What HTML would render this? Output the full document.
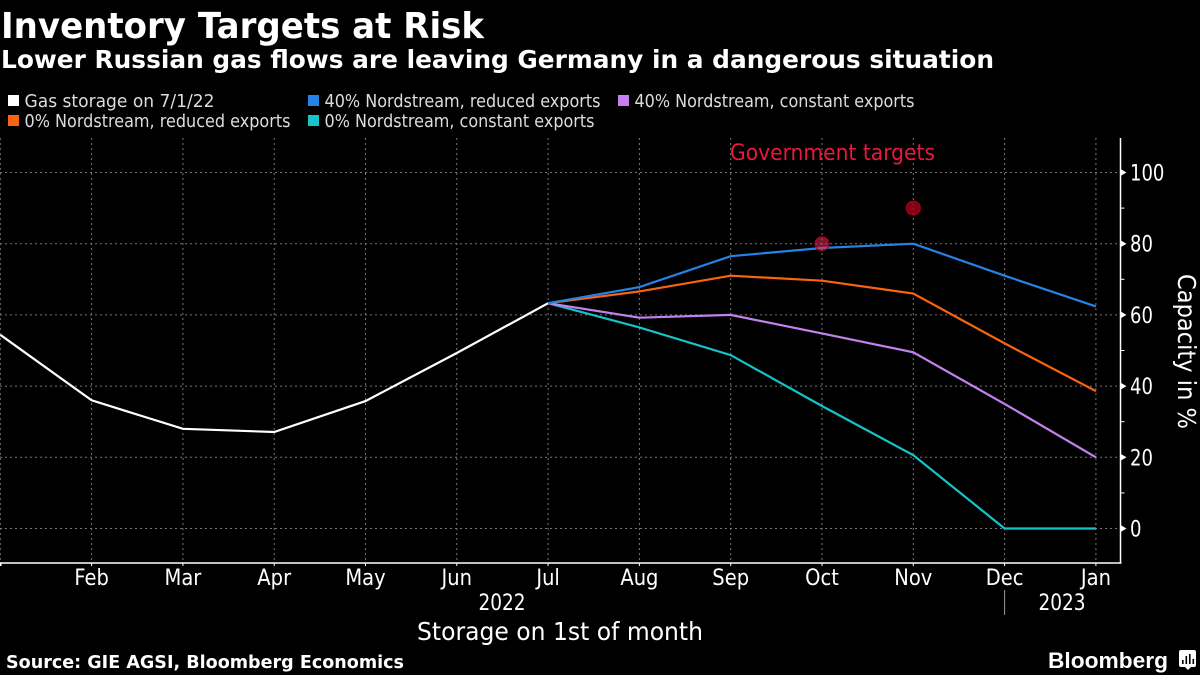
<!DOCTYPE html>
<html><head><meta charset="utf-8">
<style>
html,body{margin:0;padding:0;background:#000;width:1200px;height:675px;overflow:hidden}
svg{display:block}
text{font-family:"DejaVu Sans","Liberation Sans",sans-serif;fill:#fff}
</style></head>
<body>
<svg id="chart" width="1200" height="675" viewBox="0 0 1200 675" xmlns="http://www.w3.org/2000/svg">
<rect width="1200" height="675" fill="#000"/>
<text x="1" y="38" font-size="36" font-weight="700" textLength="483" lengthAdjust="spacingAndGlyphs">Inventory Targets at Risk</text>
<text x="1" y="68" font-size="24.5" font-weight="700" textLength="993" lengthAdjust="spacingAndGlyphs">Lower Russian gas flows are leaving Germany in a dangerous situation</text>
<g id="legend"></g>
<g id="grid"></g>
<g id="series"></g>
<g id="axes"></g>
<text x="730" y="160" font-size="22" style="fill:#e8193c" textLength="205" lengthAdjust="spacingAndGlyphs">Government targets</text>
<text transform="translate(1178,351.5) rotate(90)" text-anchor="middle" font-size="25" textLength="155" lengthAdjust="spacingAndGlyphs">Capacity in %</text>
<text x="417" y="640" font-size="25" textLength="286" lengthAdjust="spacingAndGlyphs">Storage on 1st of month</text>
<text x="6" y="668" font-size="17.5" font-weight="700" textLength="398" lengthAdjust="spacingAndGlyphs">Source: GIE AGSI, Bloomberg Economics</text>
<text x="1048" y="668" font-size="22.5" font-weight="700" textLength="120" lengthAdjust="spacingAndGlyphs" style='font-family:"Liberation Sans",sans-serif'>Bloomberg</text>
<g>
<rect x="1179" y="650" width="17" height="17" rx="2" fill="#fff"/>
<polygon points="1185,667 1191,667 1188,670" fill="#fff"/>
<rect x="1182" y="660" width="1.6" height="4" fill="#000"/>
<rect x="1185.5" y="656" width="1.6" height="8" fill="#000"/>
<rect x="1189" y="654" width="1.6" height="10" fill="#000"/>
<rect x="1192.5" y="659" width="1.6" height="5" fill="#000"/>
</g>
</svg>
<script>
const months = ['Jan','Feb','Mar','Apr','May','Jun','Jul','Aug','Sep','Oct','Nov','Dec','Jan'];
const yTicks = [0,20,40,60,80,100];
const yMinorTicks = [10,30,50,70,90];
const actual = [54.4,36,28,27.1,35.8,49.3,63.3];
const blueSeries = [63.3,67.8,76.5,78.8,80,71,62.4];
const orangeSeries = [63.3,66.6,71,69.6,66,52,38.6];
const purpleSeries = [63.3,59.2,60,54.8,49.5,35,20];
const tealSeries = [63.3,56.5,48.7,34.4,20.6,0,0];
const targetMonths = [9,10];
const targetValues = [80,90];
const legendLabels = ['Gas storage on 7/1/22','40% Nordstream, reduced exports','40% Nordstream, constant exports','0% Nordstream, reduced exports','0% Nordstream, constant exports'];

const NS = 'http://www.w3.org/2000/svg';
const X = i => 0.3 + i * 91.3;
const Y = v => 528.5 - v * 3.56;
function mk(parent, tag, attrs, txt) {
  const e = document.createElementNS(NS, tag);
  for (const k in attrs) e.setAttribute(k, attrs[k]);
  if (txt !== undefined) e.textContent = txt;
  parent.appendChild(e);
  return e;
}
/* Tall, narrow axis text: measure at the width-matching size, then render larger and squeeze back */
function squeeze(el, baseSize, bigSize) {
  el.setAttribute('font-size', baseSize);
  const w = el.getComputedTextLength();
  el.setAttribute('font-size', bigSize);
  el.setAttribute('textLength', w.toFixed(1));
  el.setAttribute('lengthAdjust', 'spacingAndGlyphs');
}
const grid = document.getElementById('grid');
const axes = document.getElementById('axes');
const series = document.getElementById('series');
const legend = document.getElementById('legend');

const plotTop = 138, plotBottom = 563, axisX = 1120.5;

months.forEach((m, i) => {
  const g = mk(grid, 'line', {x1: X(i), x2: X(i), y1: plotTop, y2: plotBottom, stroke: '#777', 'stroke-width': 1, 'stroke-dasharray': '2 3'});
  
  
});
yTicks.forEach(v => {
  const g = mk(grid, 'line', {x1: 0, x2: axisX, y1: Y(v), y2: Y(v), stroke: '#777', 'stroke-width': 1, 'stroke-dasharray': '2 3'});
  
  
});

function drawLine(vals, start, color, name) {
  const pts = vals.map((v, i) => X(i + start).toFixed(1) + ',' + Y(v).toFixed(1)).join(' ');
  const l = mk(series, 'polyline', {points: pts, fill: 'none', stroke: color, 'stroke-width': 2.2, 'stroke-linejoin': 'miter'});
  
  
}
drawLine(actual, 0, '#ffffff', 'series-gas-storage');
drawLine(tealSeries, 6, '#14c4c8', 'series-0-constant');
drawLine(purpleSeries, 6, '#c580f0', 'series-40-constant');
drawLine(orangeSeries, 6, '#f8640f', 'series-0-reduced');
drawLine(blueSeries, 6, '#2583e6', 'series-40-reduced');

const targetFills = ['rgba(225,40,85,0.55)','rgba(190,0,25,0.7)'];
targetValues.forEach((v, i) => {
  const c = mk(series, 'circle', {cx: X(targetMonths[i]), cy: Y(v), r: 7, fill: targetFills[i], stroke: '#b00018', 'stroke-width': 1});
  
  
});

const ax = mk(axes, 'line', {x1: 0, x2: axisX + 1, y1: plotBottom, y2: plotBottom, stroke: '#fff', 'stroke-width': 1.5});


const ay = mk(axes, 'line', {x1: axisX, x2: axisX, y1: plotTop, y2: plotBottom, stroke: '#fff', 'stroke-width': 1.5});



months.forEach((m, i) => {
  const t = mk(axes, 'line', {x1: X(i), x2: X(i), y1: plotBottom, y2: plotBottom + 3, stroke: '#fff', 'stroke-width': i === 0 ? 2.5 : 1});
  
  
  if (i > 0) {
    const l = mk(axes, 'text', {x: X(i), y: 585, 'text-anchor': 'middle'}, m);
    squeeze(l, 19.5, 22);
    l.setAttribute('fill', '#f0f0f0');
    
    
  }
});
yTicks.forEach(v => {
  const t = mk(axes, 'polygon', {points: `${axisX},${Y(v)-3.5} ${axisX+6},${Y(v)} ${axisX},${Y(v)+3.5}`, fill: '#fff'});
  
  
  const l = mk(axes, 'text', {x: 1130, y: Y(v) + 8}, String(v));
  squeeze(l, 18, 22.5);
  
  
});
yMinorTicks.forEach(v => {
  const t = mk(axes, 'line', {x1: axisX, x2: axisX + 4, y1: Y(v), y2: Y(v), stroke: '#fff', 'stroke-width': 1});
  
  
});

const y2022 = mk(axes, 'text', {x: 502, y: 610, 'text-anchor': 'middle'}, '2022');
squeeze(y2022, 18.5, 22);


const y2023 = mk(axes, 'text', {x: 1062, y: 610, 'text-anchor': 'middle'}, '2023');
squeeze(y2023, 18.5, 22);


const yearDiv = mk(axes, 'line', {x1: X(11), x2: X(11), y1: 590, y2: 615, stroke: '#999', 'stroke-width': 1});



const legendColors = ['#ffffff','#2583e6','#c580f0','#f8640f','#14c4c8'];
const legendCols = [8, 308, 618, 8, 308];
const legendRows = [101, 101, 101, 121, 121];
const legendWidths = [190, 276, 280, 266, 270];
legendLabels.forEach((txt, i) => {
  const r = mk(legend, 'rect', {x: legendCols[i], y: legendRows[i] - 6, width: 11, height: 11, fill: legendColors[i]});
  
  
  const t = mk(legend, 'text', {x: legendCols[i] + 16.5, y: legendRows[i] + 6, 'font-size': 18, textLength: legendWidths[i], lengthAdjust: 'spacingAndGlyphs'}, txt);
  t.setAttribute('style', 'fill:#dcdcdc');
  
  
});
</script>
</body></html>
